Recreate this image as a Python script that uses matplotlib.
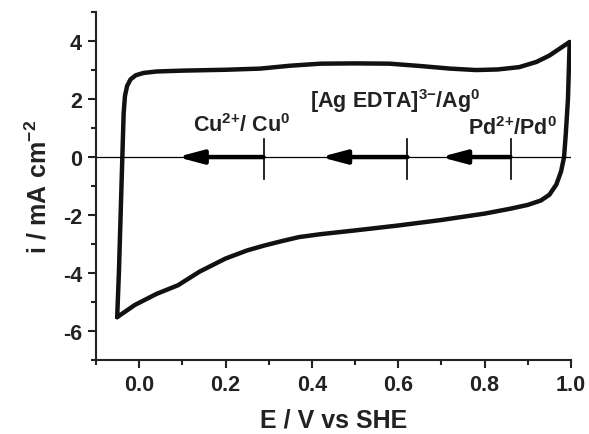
import matplotlib
matplotlib.use("Agg")
import matplotlib.pyplot as plt
from matplotlib.ticker import MultipleLocator

plt.rcParams['font.family'] = ['Liberation Sans', 'DejaVu Sans']
plt.rcParams['font.weight'] = 'bold'
plt.rcParams['mathtext.fontset'] = 'custom'
plt.rcParams['mathtext.bf'] = 'Liberation Sans:bold'
plt.rcParams['mathtext.rm'] = 'Liberation Sans:bold'
plt.rcParams['mathtext.it'] = 'Liberation Sans:bold'
plt.rcParams['mathtext.default'] = 'bf'

# Cyclic voltammogram (E in V vs SHE, i in mA cm^-2)
E_anodic = [-0.051, -0.047, -0.043, -0.039, -0.036, -0.033, -0.028, -0.020, -0.008,
            0.010, 0.040, 0.100, 0.200, 0.280, 0.350, 0.420, 0.500, 0.580, 0.650,
            0.720, 0.780, 0.830, 0.880, 0.920, 0.950, 0.975, 0.997]
i_anodic = [-5.52, -4.00, -2.00, 0.00, 1.50, 2.10, 2.45, 2.68, 2.82,
            2.90, 2.95, 2.98, 3.01, 3.05, 3.15, 3.22, 3.23, 3.22, 3.14,
            3.05, 3.00, 3.02, 3.10, 3.28, 3.50, 3.75, 3.97]
E_cathodic = [0.997, 0.993, 0.988, 0.984, 0.977, 0.966, 0.950, 0.930, 0.900, 0.860,
              0.800, 0.700, 0.600, 0.500, 0.420, 0.370, 0.330, 0.290, 0.250, 0.200,
              0.140, 0.090, 0.040, -0.010, -0.051]
i_cathodic = [3.97, 2.00, 0.80, 0.00, -0.50, -0.95, -1.30, -1.50, -1.65, -1.78,
              -1.95, -2.17, -2.36, -2.53, -2.66, -2.76, -2.90, -3.05, -3.22, -3.50,
              -3.95, -4.42, -4.72, -5.10, -5.52]

# Redox couple markers: standard potential (arrow start) and arrow end
couple_labels = [r'$Cu^{2{+}}/\ Cu^{0}$', r'$[Ag\ EDTA]^{3{-}}/Ag^{0}$', r'$Pd^{2{+}}/Pd^{0}$']
couple_E0 = [0.288, 0.621, 0.860]
arrow_end = [0.088, 0.420, 0.698]
label_x = [0.125, 0.396, 0.762]
label_y = [0.90, 1.72, 0.79]

xticks = [0.0, 0.2, 0.4, 0.6, 0.8, 1.0]
yticks = [-6, -4, -2, 0, 2, 4]

fig = plt.figure(figsize=(5.89, 4.35), dpi=100)
ax = fig.add_axes([0.163, 0.170, 0.9694 - 0.163, 0.970 - 0.170])

ax.plot(E_anodic + E_cathodic, i_anodic + i_cathodic, color='#111111', lw=3.2,
        solid_joinstyle='round', solid_capstyle='round')

ax.axhline(0, color='black', lw=0.9)

for lab, e0, e1, lx, ly in zip(couple_labels, couple_E0, arrow_end, label_x, label_y):
    ax.annotate('', xy=(e1, 0), xytext=(e0, 0),
                arrowprops=dict(arrowstyle='-|>,head_length=1.5,head_width=0.4',
                                lw=3.2, color='black', shrinkA=0, shrinkB=0))
    ax.plot([e0, e0], [0.62, -0.76], color='black', lw=1.2)
    ax.text(lx, ly, lab, fontsize=15.5, ha='left', va='baseline', color='#222222')

ax.set_xlim(-0.1, 1.0)
ax.set_ylim(-7, 5)
ax.set_xticks(xticks)
ax.set_yticks(yticks)
ax.set_xticklabels([f'{v:.1f}' for v in xticks])
ax.set_yticklabels([f'{v:d}' for v in yticks])
ax.xaxis.set_minor_locator(MultipleLocator(0.1))
ax.yaxis.set_minor_locator(MultipleLocator(1))

for s in ['top', 'right']:
    ax.spines[s].set_visible(False)
for s in ['left', 'bottom']:
    ax.spines[s].set_linewidth(1.5)
    ax.spines[s].set_color('#222222')

ax.tick_params(which='major', direction='out', length=6, width=1.5, labelsize=15.5,
               colors='#222222', pad=4)
ax.tick_params(which='minor', direction='out', length=3.5, width=1.5, colors='#222222')

ax.set_xlabel('E / V vs SHE', fontsize=18, fontweight='bold', color='#222222', labelpad=9)
ax.set_ylabel(r'$i\ /\ mA\ cm^{-2}$', fontsize=18, color='#222222', labelpad=8)

fig.savefig('out.png', dpi=100)
